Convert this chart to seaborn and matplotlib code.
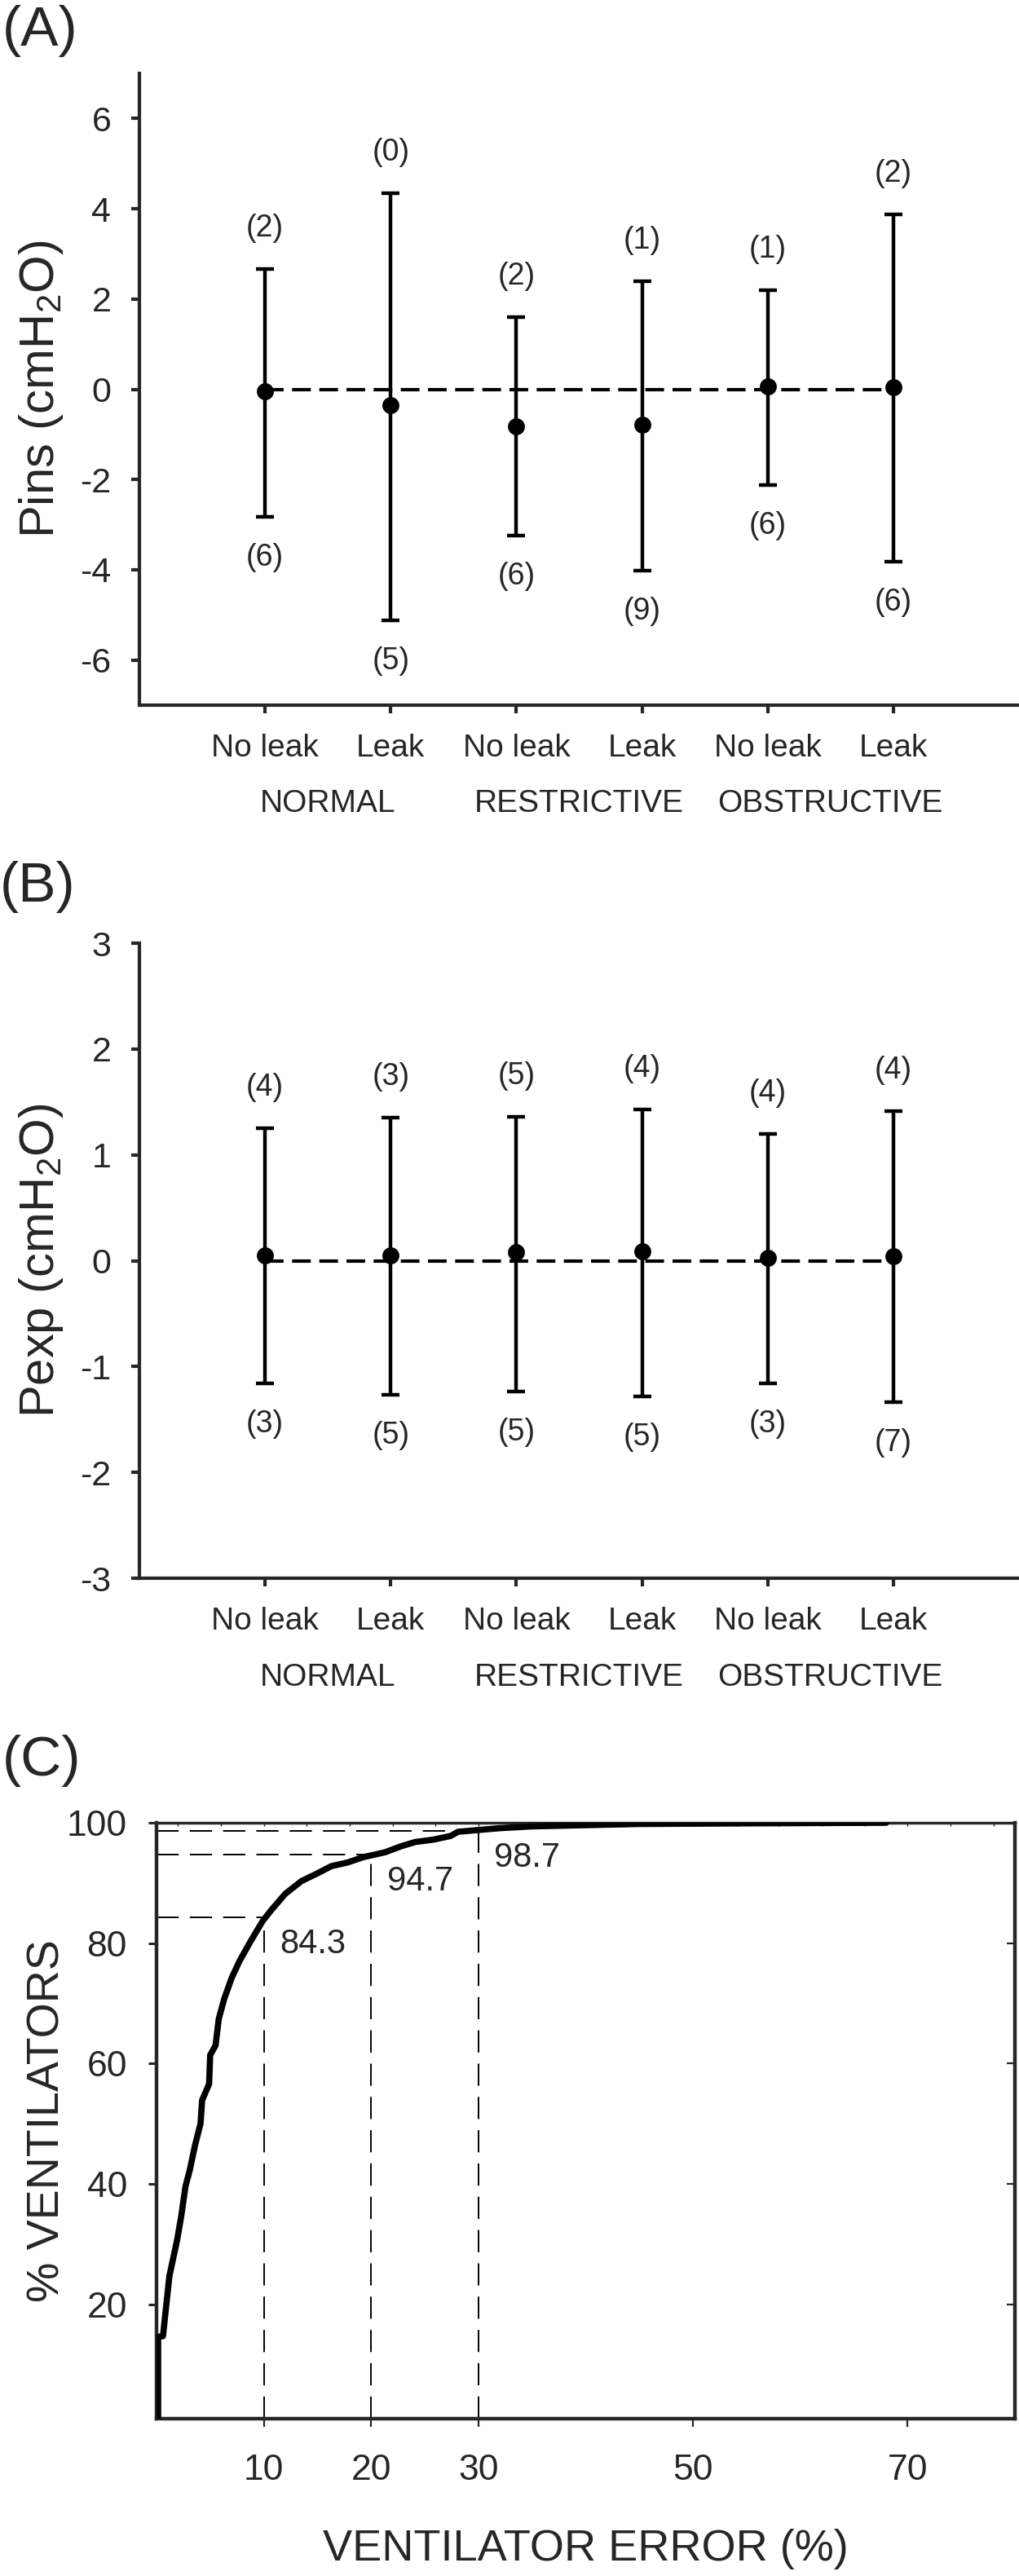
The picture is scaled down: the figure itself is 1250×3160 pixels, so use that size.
import numpy as np
import matplotlib
matplotlib.use("Agg")
import matplotlib.pyplot as plt
import matplotlib.transforms as mtransforms
import seaborn as sns


# ---- data ----
conditions = ["No leak", "Leak", "No leak", "Leak", "No leak", "Leak"]
groups = ["NORMAL", "RESTRICTIVE", "OBSTRUCTIVE"]

# (A) Pins: bias and limits of agreement, counts above / below
pins_mean = [-0.05, -0.36, -0.83, -0.78, 0.07, 0.05]
pins_upper = [2.66, 4.35, 1.59, 2.40, 2.20, 3.88]
pins_lower = [-2.82, -5.13, -3.25, -4.02, -2.12, -3.82]
pins_n_upper = [2, 0, 2, 1, 1, 2]
pins_n_lower = [6, 5, 6, 9, 6, 6]

# (B) Pexp
pexp_mean = [0.05, 0.05, 0.08, 0.09, 0.03, 0.04]
pexp_upper = [1.25, 1.35, 1.36, 1.43, 1.20, 1.41]
pexp_lower = [-1.16, -1.27, -1.24, -1.28, -1.16, -1.34]
pexp_n_upper = [4, 3, 5, 4, 4, 4]
pexp_n_lower = [3, 5, 5, 5, 3, 7]

# (C) cumulative distribution of ventilator error
err_pct = [0.15, 0.15, 0.6, 1.2, 1.9, 2.3, 2.7, 3.1, 3.6, 4.1, 4.25, 4.9, 5.0,
           5.5, 5.8, 6.3, 7.0, 7.7, 8.7, 9.9, 10.7, 12.0, 13.5, 15.0, 16.3,
           17.8, 19.3, 20.3, 21.3, 22.8, 24.1, 25.8, 27.4, 28.1, 30.0, 32.0,
           35.0, 40.0, 45.0, 55.0, 68.0]
vent_pct = [1.0, 14.6, 14.7, 24.7, 30.5, 34.6, 39.6, 42.3, 46.5, 50.0, 53.9,
            56.6, 61.4, 63.0, 67.4, 70.7, 74.2, 76.9, 80.1, 83.7, 85.5, 88.2,
            90.3, 91.6, 92.8, 93.4, 94.3, 94.7, 95.1, 96.1, 96.8, 97.2, 97.8,
            98.5, 98.8, 99.1, 99.4, 99.6, 99.8, 99.9, 100.0]
cut_err = [10, 20, 30]
cut_pct = [84.3, 94.7, 98.7]


sns.set_style("ticks")
plt.rcParams['font.family'] = ['Liberation Sans', 'DejaVu Sans']
plt.rcParams['mathtext.fontset'] = 'custom'
plt.rcParams['mathtext.rm'] = 'Liberation Sans'
plt.rcParams['mathtext.it'] = 'Liberation Sans:italic'
plt.rcParams['axes.unicode_minus'] = False

W, H = 1250, 3160
fig = plt.figure(figsize=(W / 100, H / 100), dpi=100)


def rect(left, top, right, bottom):
    return [left / W, 1 - bottom / H, (right - left) / W, (bottom - top) / H]


axA = fig.add_axes(rect(171, 90, 1250, 865))
axB = fig.add_axes(rect(171, 1157, 1250, 1936))
axC = fig.add_axes(rect(192, 2236, 1245, 2967))


def agreement_panel(ax, mean, upper, lower, n_up, n_lo, ylim, yticks, ylabel):
    pos = np.arange(1, len(conditions) + 1)
    mean = np.asarray(mean)
    upper = np.asarray(upper)
    lower = np.asarray(lower)

    ax.hlines(0, pos[0], pos[-1], colors='black', lw=3,
              linestyles=(0, (5.5, 2.5)), zorder=1)
    ax.errorbar(pos, mean, yerr=[mean - lower, upper - mean], fmt='none',
                ecolor='black', elinewidth=3.2, capsize=8, capthick=3.2,
                zorder=2)
    sns.scatterplot(x=pos, y=mean, ax=ax, color='black', s=15 ** 2,
                    linewidth=0, zorder=3)

    for x, hi, lo, a, b in zip(pos, upper, lower, n_up, n_lo):
        ax.annotate(f"({a})", (x, hi), xytext=(0, 36), textcoords='offset points',
                    ha='center', va='center', fontsize=27)
        ax.annotate(f"({b})", (x, lo), xytext=(0, -36), textcoords='offset points',
                    ha='center', va='center', fontsize=27)

    ax.set_xlim(0, 7)
    ax.set_ylim(*ylim)
    ax.set_yticks(yticks)
    ax.set_yticklabels([f"{t:g}" for t in yticks])
    ax.set_xticks(pos)
    ax.set_xticklabels(conditions)

    trans = mtransforms.blended_transform_factory(ax.transData, ax.transAxes)
    for i, g in enumerate(groups):
        ax.text(pos[2 * i] + 0.5, -0.133, g, transform=trans,
                ha='center', va='top', fontsize=28)

    sns.despine(ax=ax)
    for side in ['left', 'bottom']:
        ax.spines[side].set_linewidth(3)
    ax.tick_params(axis='y', direction='out', length=7, width=3,
                   labelsize=31, pad=18)
    ax.tick_params(axis='x', direction='out', length=7, width=3,
                   labelsize=28, pad=18)
    ax.set_ylabel(ylabel, fontsize=43)
    ax.yaxis.set_label_coords(-0.084, 0.5)


agreement_panel(axA, pins_mean, pins_upper, pins_lower, pins_n_upper,
                pins_n_lower, (-7, 7), [-6, -4, -2, 0, 2, 4, 6],
                r"Pins (cmH$_2$O)")
agreement_panel(axB, pexp_mean, pexp_upper, pexp_lower, pexp_n_upper,
                pexp_n_lower, (-3, 3), [-3, -2, -1, 0, 1, 2, 3],
                r"Pexp (cmH$_2$O)")

# ---- (C) ----
ax = axC
ymin = 1
sns.lineplot(x=err_pct, y=vent_pct, ax=ax, sort=False, estimator=None,
             color='black', lw=5.5, zorder=3)
for e, p in zip(cut_err, cut_pct):
    ax.vlines(e, ymin, p, colors='black', lw=1.4, linestyles=(0, (14, 7)), zorder=2)
    ax.hlines(p, 0, e, colors='black', lw=1.4, linestyles=(0, (14, 7)), zorder=2)
    ax.annotate(f"{p:.1f}", (e, p), xytext=(14, -24), textcoords='offset points',
                ha='left', va='center', fontsize=30)

ax.set_xlim(0, 80)
ax.set_ylim(ymin, 100)
ax.set_xticks([10, 20, 30, 50, 70])
ax.set_yticks([20, 40, 60, 80, 100])
for side in ['left', 'bottom', 'right']:
    ax.spines[side].set_linewidth(3.2)
ax.spines['top'].set_linewidth(2.5)
ax.tick_params(axis='x', direction='out', length=7, width=1.6,
               labelsize=32, pad=24)
ax.tick_params(axis='y', direction='out', length=7, width=2.2,
               labelsize=32, pad=19)

right = ax.secondary_yaxis('right')
right.set_yticks([20, 40, 60, 80])
right.tick_params(direction='in', length=7, width=1.6, labelright=False)
right.spines['right'].set_visible(False)

top = ax.secondary_xaxis('top')
top.set_xticks(np.arange(2, 80, 4))
top.tick_params(direction='in', length=3, width=1, labeltop=False)
top.spines['top'].set_visible(False)

ax.set_xlabel("VENTILATOR ERROR (%)", fontsize=39)
ax.xaxis.set_label_coords(0.5, -0.185)
ax.set_ylabel("% VENTILATORS", fontsize=40)
ax.yaxis.set_label_coords(-0.102, 0.5)

# panel letters
fig.text(3 / W, 1 - 6 / H, "(A)", fontsize=50, ha='left', va='top')
fig.text(0 / W, 1 - 1056 / H, "(B)", fontsize=50, ha='left', va='top')
fig.text(3 / W, 1 - 2128 / H, "(C)", fontsize=50, ha='left', va='top')

fig.savefig("out.png", dpi=100)
